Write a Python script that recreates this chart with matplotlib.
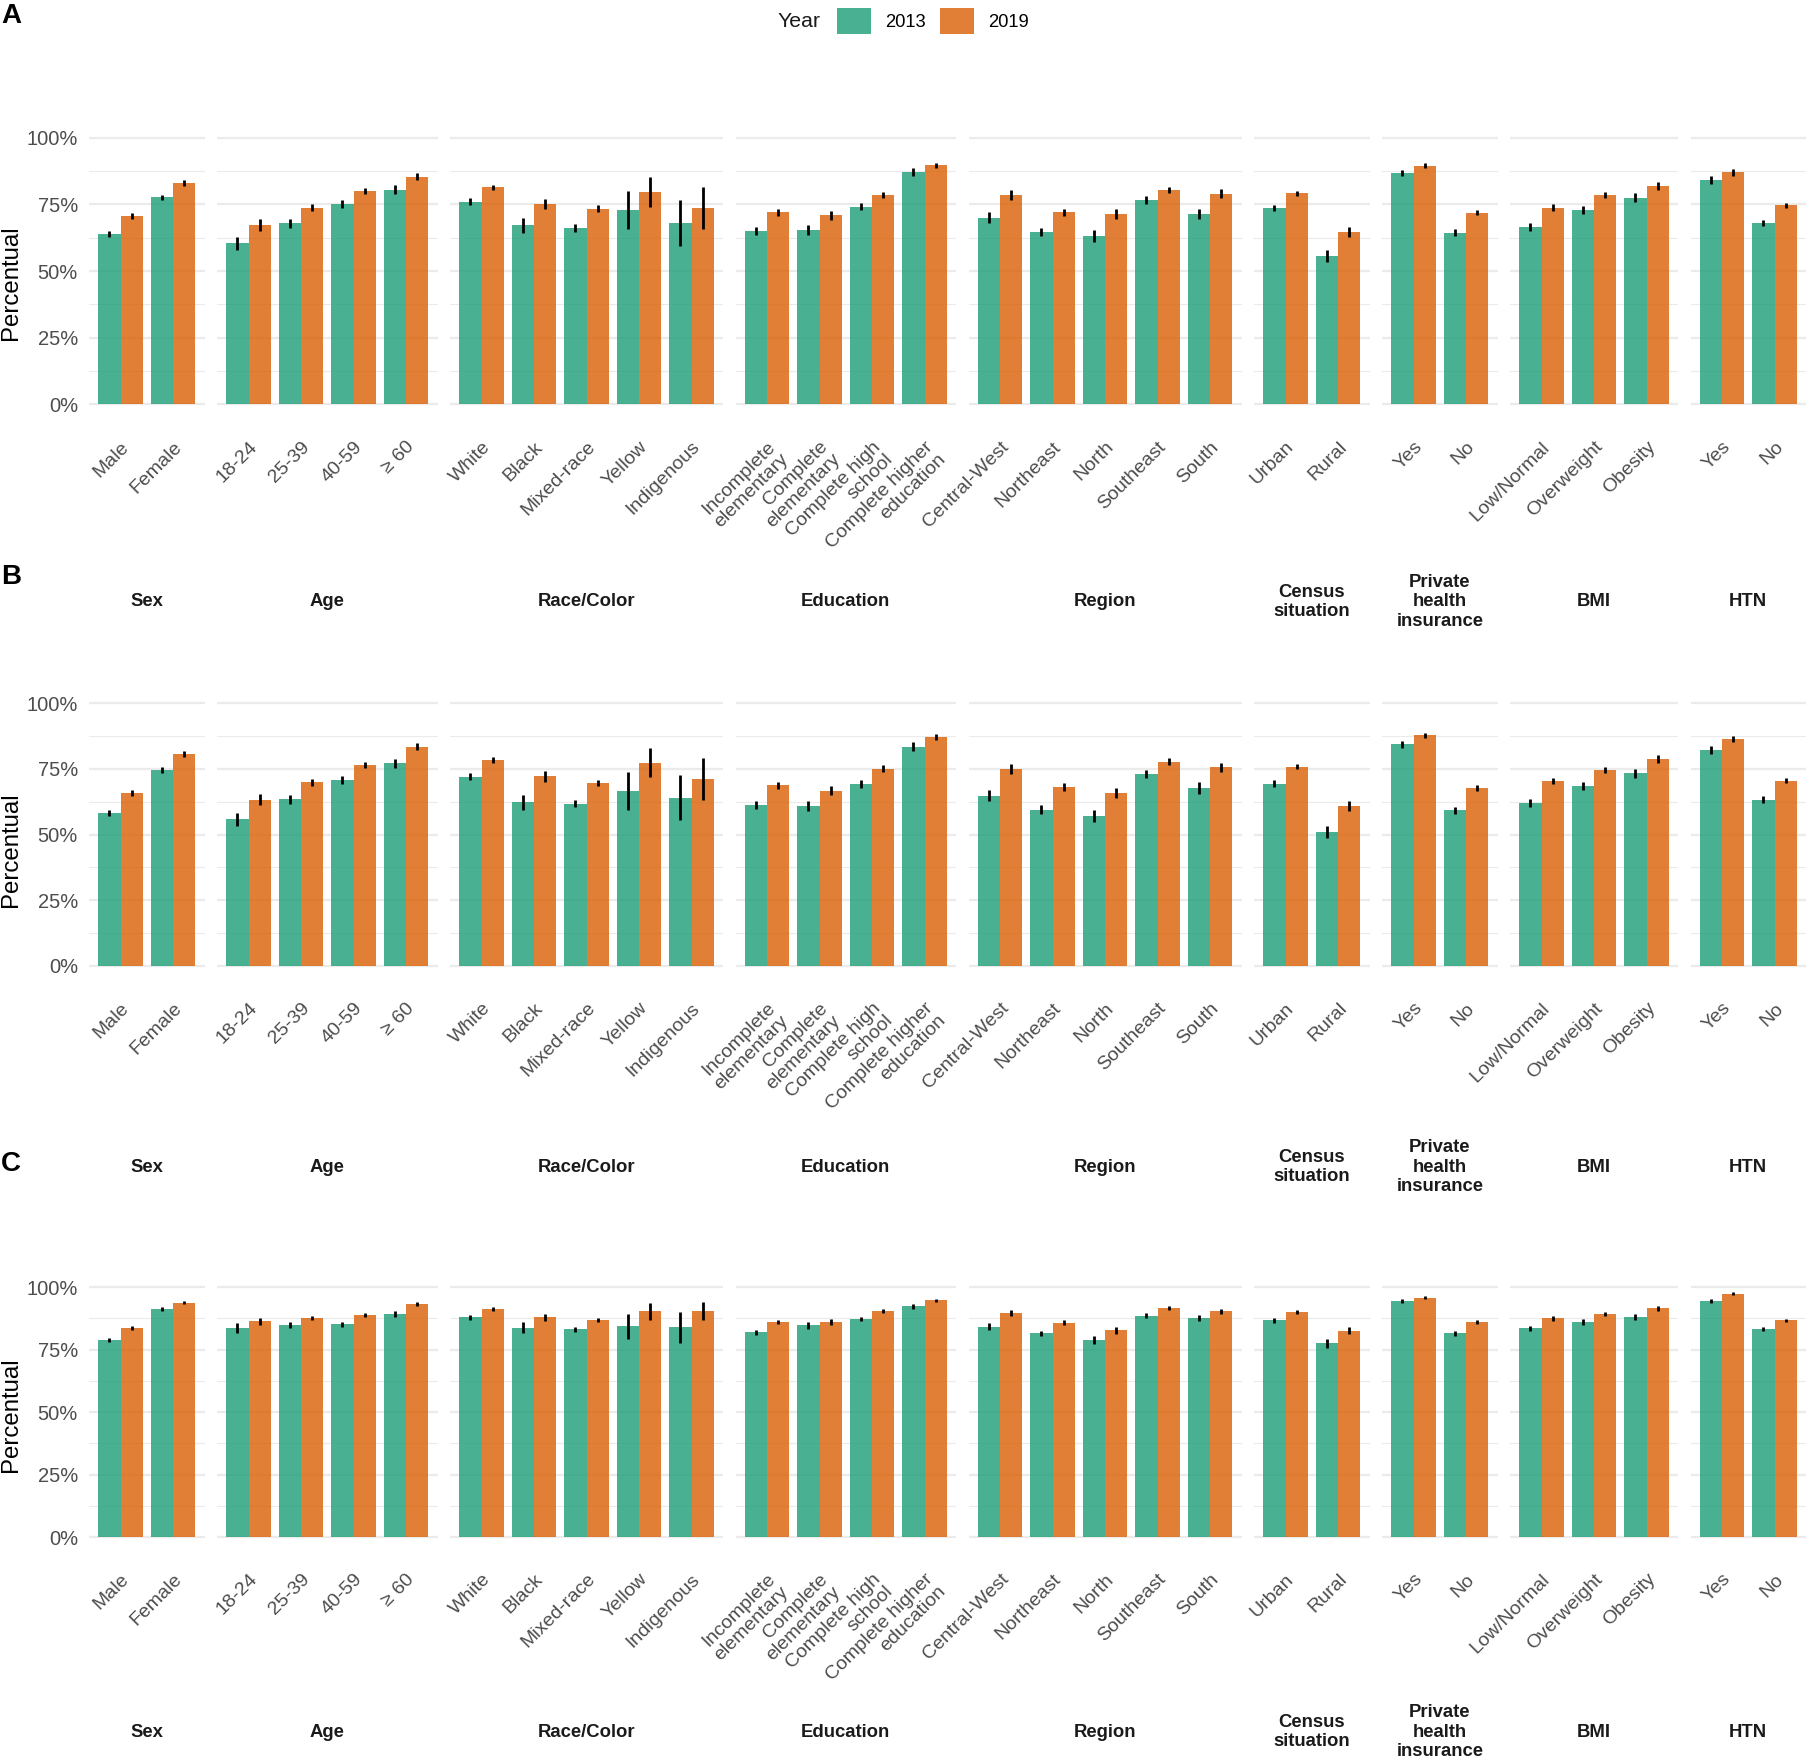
import matplotlib
matplotlib.use("Agg")
import matplotlib.pyplot as plt
from matplotlib.patches import Patch
import numpy as np

plt.rcParams['font.family'] = ['Liberation Sans', 'DejaVu Sans']

# ---------------- data ----------------
groups = ["Sex", "Age", "Race/Color", "Education", "Region",
          "Census\nsituation", "Private\nhealth\ninsurance", "BMI", "HTN"]
categories = [
    ["Male", "Female"],
    ["18-24", "25-39", "40-59", "\u2265 60"],
    ["White", "Black", "Mixed-race", "Yellow", "Indigenous"],
    ["Incomplete\nelementary", "Complete\nelementary", "Complete high\nschool", "Complete higher\neducation"],
    ["Central-West", "Northeast", "North", "Southeast", "South"],
    ["Urban", "Rural"],
    ["Yes", "No"],
    ["Low/Normal", "Overweight", "Obesity"],
    ["Yes", "No"],
]
years = ["2013", "2019"]

A_2013 = [63.8, 77.6, 60.4, 67.9, 75.1, 80.5, 76.0, 67.1, 66.1, 72.9, 68.0, 65.1, 65.3, 74.1, 87.1,
          70.0, 64.6, 63.1, 76.6, 71.4, 73.6, 55.6, 86.8, 64.4, 66.4, 72.8, 77.5, 84.1, 68.0]
A_2019 = [70.6, 83.0, 67.3, 73.8, 80.1, 85.4, 81.4, 75.1, 73.4, 79.6, 73.6, 72.0, 70.9, 78.6, 89.6,
          78.5, 72.0, 71.3, 80.5, 79.0, 79.1, 64.6, 89.5, 71.9, 73.8, 78.4, 81.8, 87.0, 74.6]
A_err13 = [1.2, 1.1, 2.5, 1.6, 1.4, 1.6, 1.3, 2.8, 1.5, 7.0, 8.5, 1.5, 1.8, 1.3, 1.5,
           2.0, 1.6, 2.2, 1.6, 2.0, 1.2, 2.2, 1.2, 1.2, 1.5, 1.5, 1.8, 1.5, 1.3]
A_err19 = [1.1, 1.0, 2.2, 1.4, 1.2, 1.2, 1.0, 2.0, 1.2, 5.5, 8.0, 1.2, 1.6, 1.2, 1.1,
           1.8, 1.4, 1.8, 1.2, 1.6, 1.0, 1.8, 1.0, 1.0, 1.2, 1.2, 1.5, 1.2, 1.0]

B_2013 = [58.2, 74.6, 55.8, 63.4, 70.8, 77.1, 72.0, 62.3, 61.8, 66.7, 64.0, 61.1, 61.0, 69.3, 83.5,
          64.7, 59.5, 57.1, 73.1, 67.7, 69.3, 51.1, 84.4, 59.3, 61.9, 68.6, 73.3, 82.3, 63.3]
B_2019 = [65.8, 80.7, 63.3, 69.9, 76.4, 83.5, 78.4, 72.2, 69.5, 77.3, 71.2, 68.7, 66.6, 75.1, 87.3,
          75.0, 68.1, 66.0, 77.8, 75.7, 75.9, 61.0, 87.8, 67.7, 70.4, 74.6, 78.9, 86.4, 70.5]
B_err13 = [1.2, 1.1, 2.5, 1.6, 1.4, 1.6, 1.3, 2.9, 1.5, 7.2, 8.6, 1.5, 1.9, 1.4, 1.6,
           2.1, 1.6, 2.2, 1.6, 2.2, 1.3, 2.3, 1.3, 1.3, 1.5, 1.5, 1.8, 1.5, 1.3]
B_err19 = [1.1, 1.0, 2.2, 1.4, 1.2, 1.3, 1.0, 2.0, 1.2, 5.5, 8.0, 1.2, 1.7, 1.2, 1.1,
           1.8, 1.4, 1.9, 1.2, 1.7, 1.0, 1.9, 1.0, 1.0, 1.2, 1.2, 1.5, 1.2, 1.0]

C_2013 = [78.8, 91.3, 83.6, 84.7, 85.2, 89.2, 87.9, 83.8, 83.1, 84.3, 84.0, 81.9, 84.7, 87.2, 92.3,
          84.2, 81.5, 78.8, 88.5, 87.5, 86.7, 77.6, 94.5, 81.5, 83.5, 86.0, 88.0, 94.4, 83.2]
C_2019 = [83.5, 93.7, 86.3, 87.6, 88.9, 93.3, 91.2, 87.9, 86.8, 90.4, 90.4, 85.9, 86.0, 90.3, 94.7,
          89.5, 85.8, 82.7, 91.5, 90.3, 90.0, 82.6, 95.7, 86.0, 87.5, 89.2, 91.5, 97.3, 86.7]
C_err13 = [0.9, 0.7, 2.0, 1.2, 1.0, 1.3, 0.9, 2.2, 1.0, 5.0, 6.2, 1.0, 1.4, 0.9, 0.9,
           1.4, 1.0, 1.6, 1.0, 1.2, 0.9, 1.8, 0.8, 0.9, 1.1, 1.1, 1.3, 0.9, 0.9]
C_err19 = [0.8, 0.6, 1.5, 0.9, 0.9, 0.8, 0.7, 1.5, 0.8, 3.4, 3.6, 0.8, 1.2, 0.8, 0.7,
           1.2, 0.9, 1.3, 0.8, 1.0, 0.7, 1.3, 0.6, 0.8, 0.9, 0.9, 1.0, 0.6, 0.7]

panels = [
    ("A", A_2013, A_2019, A_err13, A_err19),
    ("B", B_2013, B_2019, B_err13, B_err19),
    ("C", C_2013, C_2019, C_err13, C_err19),
]

# ---------------- style ----------------
W, H = 1807, 1760
col13 = "#1B9E77"
col19 = "#D95F02"
alpha = 0.8
grid_col = "#EBEBEB"
tick_col = "#4D4D4D"
text_col = "#1A1A1A"

fig = plt.figure(figsize=(W / 100, H / 100), dpi=100)

def fx(px):
    return px / W

def fy(py):
    return 1 - py / H

rows = [
    dict(top=124.4, bot=417.6, strip=602.0, ytitle=283.0, letter=16.0),
    dict(top=690.2, bot=978.8, strip=1167.0, ytitle=850.0, letter=577.0),
    dict(top=1274.5, bot=1549.8, strip=1732.0, ytitle=1415.0, letter=1164.0),
]
left_px, right_px, gap_px = 89.0, 1806.0, 12.5
ncat = [len(c) for c in categories]
widths_u = [n + 0.2 for n in ncat]
unit = (right_px - left_px - gap_px * (len(groups) - 1)) / sum(widths_u)
bw = 0.425

for (letter, v13, v19, e13, e19), geo in zip(panels, rows):
    x0 = left_px
    start = 0
    for gi, (gname, cats) in enumerate(zip(groups, categories)):
        n = len(cats)
        wpx = widths_u[gi] * unit
        ax = fig.add_axes([fx(x0), fy(geo["bot"]), wpx / W, (geo["bot"] - geo["top"]) / H])
        xs = np.arange(n)
        s13 = v13[start:start + n]
        s19 = v19[start:start + n]
        r13 = e13[start:start + n]
        r19 = e19[start:start + n]
        ax.bar(xs - bw / 2, s13, width=bw, color=col13, alpha=alpha, zorder=2)
        ax.bar(xs + bw / 2, s19, width=bw, color=col19, alpha=alpha, zorder=2)
        ax.errorbar(xs - bw / 2, s13, yerr=r13, fmt="none", ecolor="black", elinewidth=2.0, capsize=0, zorder=3)
        ax.errorbar(xs + bw / 2, s19, yerr=r19, fmt="none", ecolor="black", elinewidth=2.0, capsize=0, zorder=3)
        ax.set_xlim(-0.6, n - 0.4)
        ax.set_ylim(-5, 105)
        ax.set_yticks([0, 25, 50, 75, 100])
        ax.set_yticks([12.5, 37.5, 62.5, 87.5], minor=True)
        ax.grid(which="major", axis="y", color=grid_col, lw=1.6, zorder=0)
        ax.grid(which="minor", axis="y", color=grid_col, lw=0.8, zorder=0)
        ax.set_axisbelow(True)
        for sp in ax.spines.values():
            sp.set_visible(False)
        ax.set_xticks(xs)
        ax.set_xticklabels(cats, rotation=45, ha="right", va="top", rotation_mode="anchor",
                           fontsize=14, color=tick_col, multialignment="right", linespacing=1.05)
        ax.tick_params(axis="x", length=0, pad=15)
        ax.tick_params(axis="y", which="both", length=0)
        if gi == 0:
            ax.set_yticklabels(["0%", "25%", "50%", "75%", "100%"], fontsize=14.5, color=tick_col)
            ax.tick_params(axis="y", pad=8)
        else:
            ax.set_yticklabels([])
        fig.text(fx(x0 + wpx / 2), fy(geo["strip"]), gname, ha="center", va="center",
                 fontsize=13.3, fontweight="bold", color=text_col, linespacing=1.2)
        x0 += wpx + gap_px
        start += n
    fig.text(fx(11), fy(geo["ytitle"]), "Percentual", rotation=90, ha="center", va="center",
             fontsize=17.3, color="black")
    fig.text(fx(1), fy(geo["letter"]), letter, ha="left", va="center", fontsize=20,
             fontweight="bold", color="black")

# legend
fig.text(fx(778), fy(21.5), "Year", ha="left", va="center", fontsize=15.3, color=text_col)
handles = [Patch(facecolor=col13, alpha=alpha, edgecolor="none"),
           Patch(facecolor=col19, alpha=alpha, edgecolor="none")]
fig.legend(handles, years, loc="center", bbox_to_anchor=(fx(933), fy(21)), ncol=2,
           frameon=False, fontsize=13.2, handlelength=1.85, handleheight=1.85,
           handletextpad=0.75, columnspacing=0.8, borderpad=0, borderaxespad=0)

fig.savefig("out.png", dpi=100)
